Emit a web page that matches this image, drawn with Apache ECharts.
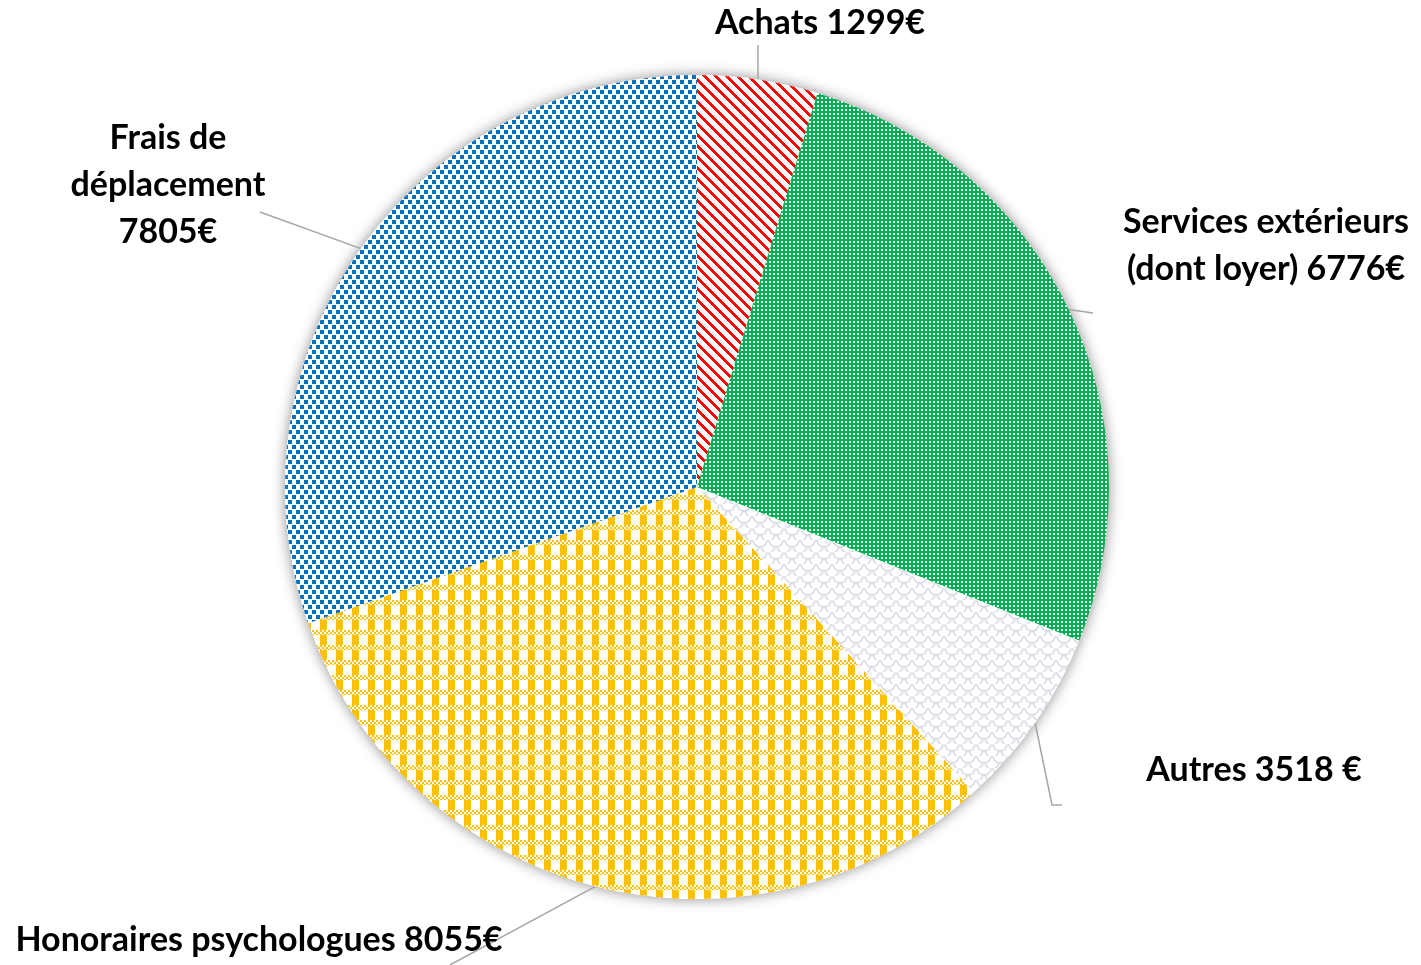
<!DOCTYPE html>
<html>
<head>
<meta charset="utf-8">
<script src="https://cdn.jsdelivr.net/npm/echarts@6/dist/echarts.min.js"></script>
<style>
  html, body { margin: 0; padding: 0; background: #fff; }
  #chart { width: 1421px; height: 965px; }
</style>
</head>
<body>
<div id="chart"></div>
<script>
// data
const categories = ['Achats', 'Services extérieurs\n(dont loyer)', 'Autres', 'Honoraires psychologues', 'Frais de\ndéplacement'];
// amounts printed in the labels
const labelAmounts = [1299, 6776, 3518, 8055, 7805];
const sliceValues = [1215, 6776, 1850, 8060, 7805];
const separators = [' ', ' ', ' ', ' ', '\n'];
const units = ['€', '€', ' €', '€', '€'];

// little pattern tiles, drawn once
function tile(w, h, draw) {
  const c = document.createElement('canvas');
  c.width = w; c.height = h;
  const ctx = c.getContext('2d');
  ctx.fillStyle = '#fff';
  ctx.fillRect(0, 0, w, h);
  draw(ctx);
  return { image: c, repeat: 'repeat' };
}

const redStripes = tile(11, 11, ctx => {
  ctx.fillStyle = '#ff0000';
  for (let y = 0; y < 11; y++)
    for (let x = 0; x < 11; x++)
      if (((x - y) % 11 + 11) % 11 < 4) ctx.fillRect(x, y, 1, 1);
});
const greenDots = tile(4, 4, ctx => {
  ctx.fillStyle = '#00b050';
  ctx.fillRect(0, 0, 4, 4);
  ctx.fillStyle = '#fff';
  ctx.fillRect(1, 1, 2, 2);
});
const greyScales = tile(16, 12, ctx => {
  ctx.strokeStyle = '#d5d9e4';
  ctx.lineWidth = 1.5;
  ctx.beginPath(); ctx.arc(8, 0, 7, 0, Math.PI); ctx.stroke();
  ctx.beginPath(); ctx.arc(0, 6, 7, 0, Math.PI); ctx.stroke();
  ctx.beginPath(); ctx.arc(16, 6, 7, 0, Math.PI); ctx.stroke();
  ctx.beginPath(); ctx.arc(8, 12, 7, 0, Math.PI); ctx.stroke();
});
const yellowCheck = tile(16, 15, ctx => {
  ctx.fillStyle = '#ffc000';
  for (let y = 0; y < 5; y++)
    for (let x = 0; x < 16; x++)
      if (((x >> 1) + (y >> 1)) % 2 === 0) ctx.fillRect(x, y, 1, 1);
  ctx.fillRect(0, 5, 7, 10);
});
const blueSquares = tile(8, 10, ctx => {
  ctx.fillStyle = '#0070c0';
  ctx.fillRect(0, 0, 4, 4);
  ctx.fillRect(4, 5, 4, 4);
});
const fills = [redStripes, greenDots, greyScales, yellowCheck, blueSquares];

// where each label sits, and where its leader line ends
const labelSpots = [
  { x: 820, y: 23, line: p => [[p[0], 45]] },
  { x: 1266, y: 246, line: p => [[1093, 313]] },
  { x: 1254, y: 770, line: p => [[1052, 805], [1062, 805]] },
  { x: 259, y: 940, line: p => [[450, 965]] },
  { x: 168, y: 185, line: p => [[260, 212]] }
];

const pieData = categories.map((c, i) => ({ name: c, value: sliceValues[i], itemStyle: { color: fills[i] } }));
const shadowData = categories.map((c, i) => ({ name: c, value: sliceValues[i] }));

const chart = echarts.init(document.getElementById('chart'));
chart.setOption({
  animation: false,
  series: [
    {
      type: 'pie',
      silent: true,
      center: [697, 487],
      radius: 412,
      z: 1,
      label: { show: false },
      labelLine: { show: false },
      itemStyle: { color: '#fff', shadowBlur: 14, shadowColor: 'rgba(0,0,0,0.45)' },
      data: shadowData
    },
    {
      type: 'pie',
      center: [697, 487],
      radius: 412,
      z: 2,
      itemStyle: { borderWidth: 0 },
      label: {
        show: true,
        position: 'outside',
        formatter: p => p.name + separators[p.dataIndex] + labelAmounts[p.dataIndex] + units[p.dataIndex],
        fontFamily: 'Lato',
        fontWeight: 'bold',
        fontSize: 34,
        lineHeight: 47,
        color: '#000',
        align: 'center'
      },
      labelLine: {
        show: true,
        lineStyle: { color: '#a6a6a6', width: 1.5 }
      },
      labelLayout: params => {
        const s = labelSpots[params.dataIndex];
        const p0 = params.labelLinePoints[0];
        return {
          x: s.x,
          y: s.y,
          align: 'center',
          verticalAlign: 'middle',
          labelLinePoints: [p0].concat(s.line(p0))
        };
      },
      data: pieData
    }
  ]
});
</script>
</body>
</html>
